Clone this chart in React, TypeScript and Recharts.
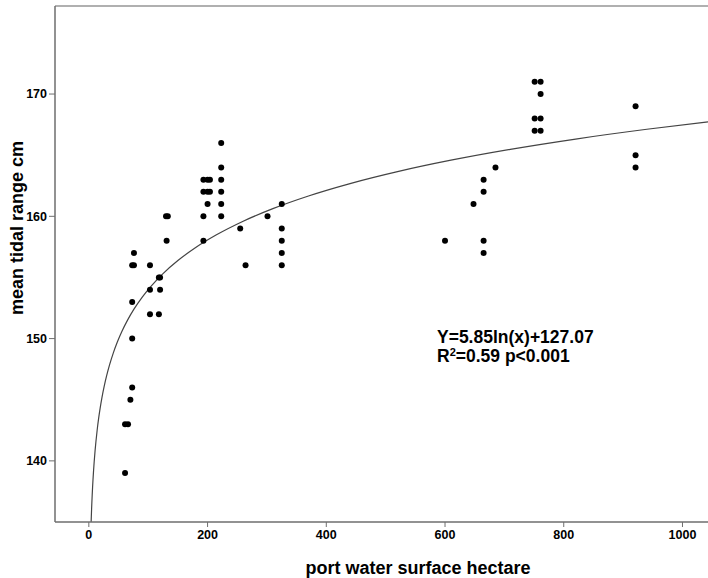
import React from "react";
import {
  ComposedChart,
  XAxis,
  YAxis,
  Scatter,
  Line,
  ReferenceLine,
} from "recharts";

// port water surface (hectare) and mean tidal range (cm)
const areaHa = [
  61, 61, 66, 70, 73, 73, 73, 73, 76, 76, 103, 103, 103, 118, 118, 120, 120,
  131, 130, 133, 193, 193, 193, 200, 204, 193, 200, 204, 200, 223, 223, 223,
  223, 223, 223, 255, 264, 301, 325, 325, 325, 325, 325, 600, 648, 665, 665,
  665, 665, 685, 751, 751, 751, 761, 761, 761, 761, 921, 921, 921,
];
const tideCm = [
  139, 143, 143, 145, 146, 150, 153, 156, 156, 157, 156, 154, 152, 152, 155,
  155, 154, 158, 160, 160, 158, 160, 162, 162, 162, 163, 163, 163, 161, 160,
  161, 162, 163, 164, 166, 159, 156, 160, 161, 159, 158, 157, 156, 158, 161,
  163, 162, 158, 157, 164, 171, 168, 167, 171, 170, 168, 167, 169, 165, 164,
];

const xTicks = [0, 200, 400, 600, 800, 1000];
const yTicks = [140, 150, 160, 170];

// fitted curve Y = 5.85 ln(x) + 127.07
const fitA = 5.85;
const fitB = 127.07;
const fitX = [
  3.88, 4.2, 4.6, 5, 5.6, 6.3, 7, 8, 9, 10.5, 12, 14, 16.5, 19, 22, 26, 30,
  35, 41, 48, 56, 65, 76, 90, 105, 125, 150, 180, 215, 260, 310, 370, 440,
  520, 610, 710, 820, 940, 1043,
];

const points = areaHa.map((x, i) => ({ x, y: tideCm[i] }));
const fit = fitX.map((x) => ({ x, y: fitA * Math.log(x) + fitB }));

const font = "'Liberation Sans', Arial, sans-serif";
const axisColor = "#6e6e6e";

const Dot = (props: any) => (
  <circle cx={props.cx} cy={props.cy} r={3} fill="#000" />
);

export default function App() {
  return (
    <div style={{ position: "absolute", left: 0, top: 0, fontFamily: font }}>
      <ComposedChart
        width={708}
        height={578}
        margin={{ top: 6, right: 0, bottom: 26, left: 0 }}
      >
        <XAxis
          type="number"
          dataKey="x"
          domain={[-57, 1043]}
          ticks={xTicks}
          allowDataOverflow
          height={30}
          tickSize={5}
          tickMargin={3}
          axisLine={{ stroke: axisColor, strokeWidth: 1.5 }}
          tickLine={{ stroke: axisColor }}
          tick={{ fill: "#000", fontSize: 12.5, fontWeight: "bold", fontFamily: font }}
        />
        <YAxis
          type="number"
          domain={[135, 177.2]}
          ticks={yTicks}
          allowDataOverflow
          width={55}
          tickSize={6}
          tickMargin={2}
          axisLine={{ stroke: axisColor, strokeWidth: 1.5 }}
          tickLine={{ stroke: axisColor }}
          tick={{ fill: "#000", fontSize: 12.5, fontWeight: "bold", fontFamily: font }}
        />
        <ReferenceLine y={177.2} stroke="#b0b0b0" strokeWidth={2} />
        <Line
          data={fit}
          dataKey="y"
          type="monotone"
          dot={false}
          stroke="#444"
          strokeWidth={1.2}
          isAnimationActive={false}
        />
        <Scatter
          data={points}
          dataKey="y"
          shape={<Dot />}
          isAnimationActive={false}
        />
        <text
          x={17}
          y={228}
          transform="rotate(-90 17 228)"
          textAnchor="middle"
          dominantBaseline="central"
          fontFamily={font}
          fontWeight="bold"
          fontSize={18}
          fill="#000"
        >
          mean tidal range cm
        </text>
        <text
          x={418}
          y={574}
          textAnchor="middle"
          fontFamily={font}
          fontWeight="bold"
          fontSize={18}
          fill="#000"
        >
          port water surface hectare
        </text>
        <text x={437} y={343} fontFamily={font} fontWeight="bold" fontSize={17.5} fill="#000">
          Y=5.85ln(x)+127.07
        </text>
        <text x={437} y={362} fontFamily={font} fontWeight="bold" fontSize={17.5} fill="#000">
          R<tspan dy={-6} fontSize={11}>2</tspan>
          <tspan dy={6}>=0.59 p&lt;0.001</tspan>
        </text>
      </ComposedChart>
    </div>
  );
}
